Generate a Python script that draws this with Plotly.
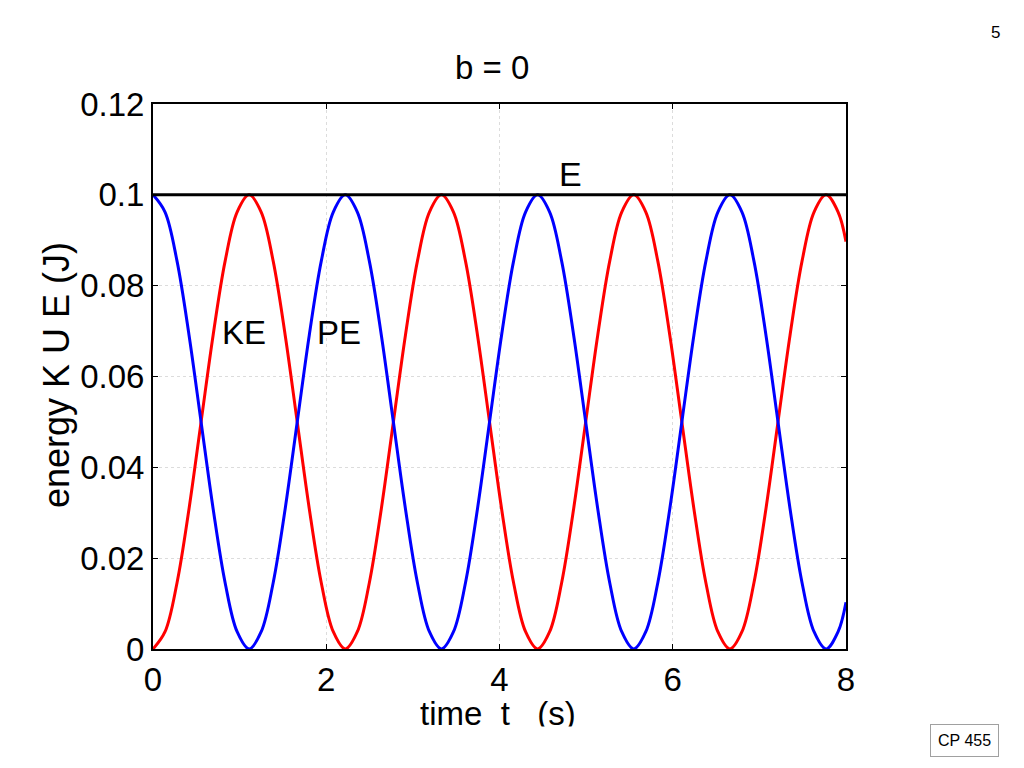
import plotly.graph_objects as go

# Values (sixteenth-period sample points, energy period ~2.22 s)
time_s = [0, 0.139, 0.2775, 0.416, 0.555, 0.694, 0.8325, 0.971, 1.11, 1.249, 1.3875,
          1.526, 1.665, 1.804, 1.9425, 2.081, 2.22, 2.359, 2.4975, 2.636, 2.775,
          2.914, 3.0525, 3.191, 3.33, 3.469, 3.6075, 3.746, 3.885, 4.024, 4.1625,
          4.301, 4.44, 4.579, 4.7175, 4.856, 4.995, 5.134, 5.2725, 5.411, 5.55,
          5.689, 5.8275, 5.966, 6.105, 6.244, 6.3825, 6.521, 6.66, 6.799, 6.9375,
          7.076, 7.215, 7.354, 7.4925, 7.631, 7.77, 7.909, 8.0]
pe_J = [0.1, 0.0962, 0.0854, 0.0691, 0.05, 0.0309, 0.0146, 0.0038,
        0, 0.0038, 0.0146, 0.0309, 0.05, 0.0691, 0.0854, 0.0962,
        0.1, 0.0962, 0.0854, 0.0691, 0.05, 0.0309, 0.0146, 0.0038,
        0, 0.0038, 0.0146, 0.0309, 0.05, 0.0691, 0.0854, 0.0962,
        0.1, 0.0962, 0.0854, 0.0691, 0.05, 0.0309, 0.0146, 0.0038,
        0, 0.0038, 0.0146, 0.0309, 0.05, 0.0691, 0.0854, 0.0962,
        0.1, 0.0962, 0.0854, 0.0691, 0.05, 0.0309, 0.0146, 0.0038,
        0, 0.0038, 0.0103]
ke_J = [0, 0.0038, 0.0146, 0.0309, 0.05, 0.0691, 0.0854, 0.0962,
        0.1, 0.0962, 0.0854, 0.0691, 0.05, 0.0309, 0.0146, 0.0038,
        0, 0.0038, 0.0146, 0.0309, 0.05, 0.0691, 0.0854, 0.0962,
        0.1, 0.0962, 0.0854, 0.0691, 0.05, 0.0309, 0.0146, 0.0038,
        0, 0.0038, 0.0146, 0.0309, 0.05, 0.0691, 0.0854, 0.0962,
        0.1, 0.0962, 0.0854, 0.0691, 0.05, 0.0309, 0.0146, 0.0038,
        0, 0.0038, 0.0146, 0.0309, 0.05, 0.0691, 0.0854, 0.0962,
        0.1, 0.0962, 0.0897]
e_time = [0, 8]
e_J = [0.1, 0.1]

x_ticks = [0, 2, 4, 6, 8]
x_ticktext = ["0", "2", "4", "6", "8"]
y_ticks = [0, 0.02, 0.04, 0.06, 0.08, 0.1, 0.12]
y_ticktext = ["0", "0.02", "0.04", "0.06", "0.08", "0.1", "0.12"]

FONT = "Liberation Sans, Arial, sans-serif"

W, H = 1024, 768
L, R, T, B = 153, 846, 104, 649

fig = go.Figure()
fig.add_trace(go.Scatter(x=time_s, y=ke_J, mode="lines", name="KE",
                         line=dict(color="#ff0000", width=3, shape="spline", smoothing=1.0)))
fig.add_trace(go.Scatter(x=time_s, y=pe_J, mode="lines", name="PE",
                         line=dict(color="#0000ff", width=3, shape="spline", smoothing=1.0)))
fig.add_trace(go.Scatter(x=e_time, y=e_J, mode="lines", name="E",
                         line=dict(color="#000000", width=3)))

axis_common = dict(
    showline=True, linecolor="black", linewidth=2, mirror="ticks",
    ticks="inside", ticklen=5, tickcolor="black", tickwidth=1,
    showgrid=True, gridcolor="#dcdcdc", griddash="dot", gridwidth=1,
    zeroline=False,
    tickfont=dict(family=FONT, size=33, color="black"),
)

fig.update_layout(
    width=W, height=H,
    paper_bgcolor="white", plot_bgcolor="white",
    margin=dict(l=L, r=W - R, t=T, b=H - B),
    showlegend=False,
    xaxis=dict(range=[0, 8], tickvals=x_ticks, ticktext=x_ticktext, **axis_common),
    yaxis=dict(range=[0, 0.12], tickvals=y_ticks, ticktext=y_ticktext, **axis_common),
)

px = lambda v: (v - L) / (R - L)
py = lambda v: (B - v) / (B - T)

def ann(text, x, y, size, xref="paper", yref="paper", **kw):
    fig.add_annotation(text=text, x=x, y=y, xref=xref, yref=yref, showarrow=False,
                       font=dict(family=FONT, size=size, color="black"), **kw)

# title
ann("b = 0", px(492), py(67), 33, xanchor="center", yanchor="middle")
# curve labels
ann("E", 4.82, 0.1045, 34, xref="x", yref="y", xanchor="center", yanchor="middle")
ann("KE", 1.05, 0.0697, 33, xref="x", yref="y", xanchor="center", yanchor="middle")
ann("PE", 2.15, 0.0697, 33, xref="x", yref="y", xanchor="center", yanchor="middle")
# axis titles
ann("energy K U E (J)", px(56), py(375), 36, xanchor="center", yanchor="middle", textangle=-90)
ann("time\u00a0\u00a0t\u00a0\u00a0\u00a0(s)", px(498), py(713), 33, xanchor="center", yanchor="middle")
# white box clipping the bottom of the x-axis title like the reference
ann("\u00a0", px(380), py(726), 10, xanchor="left", yanchor="top",
    width=240, height=36, bgcolor="white", borderpad=0)
# slide page number and footer box
ann("5", px(995), py(32), 17, xanchor="center", yanchor="middle")
ann("CP 455", px(964), py(740), 16, xanchor="center", yanchor="middle",
    bordercolor="#a0a0a0", borderwidth=1, borderpad=7, bgcolor="white")

fig.write_html("out.html", config={"displayModeBar": False},
               post_script="document.body.style.margin='0';")
